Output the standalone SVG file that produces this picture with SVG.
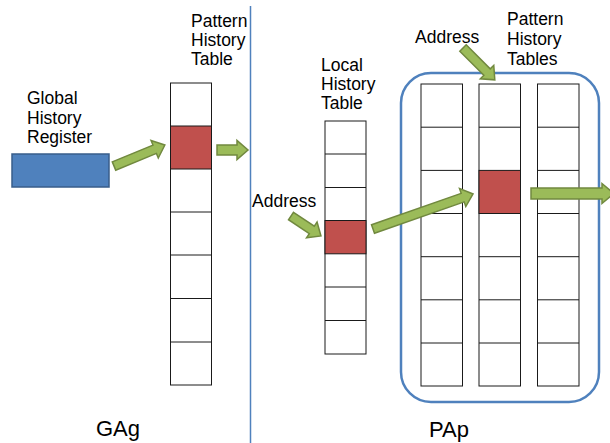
<svg xmlns="http://www.w3.org/2000/svg" width="610" height="443" viewBox="0 0 610 443">
<style>
text{font-family:"Liberation Sans",Arial,sans-serif;font-size:17.5px;fill:#000}
.big{font-size:22px}
.cell{fill:#fff;stroke:#1a1a1a;stroke-width:1}
.hot{fill:#C0504D;stroke:#1a1a1a;stroke-width:1}
.arr{fill:#9BBB59;stroke:#71893F;stroke-width:1.5;stroke-linejoin:miter}
</style>
<rect width="610" height="443" fill="#fff"/>
<line x1="250.5" y1="6" x2="250.5" y2="443" stroke="#4F81BD" stroke-width="1.5"/>
<g id="ghr">
<rect x="12" y="154" width="97" height="33" fill="#4F81BD" stroke="#385D8A" stroke-width="1.5"/>
<text x="27" y="104">Global</text>
<text x="27" y="124">History</text>
<text x="27" y="143">Register</text>
</g>
<g id="pht-gag">
<text x="191" y="27">Pattern</text>
<text x="191" y="46">History</text>
<text x="191" y="65">Table</text>
<rect class="cell" x="170.5" y="83" width="41" height="302"/>
<rect class="hot" x="170.5" y="126" width="41" height="43"/>
<path d="M170.5 212H211.5M170.5 255H211.5M170.5 298.5H211.5M170.5 342H211.5" stroke="#1a1a1a" stroke-width="1"/>
</g>
<g id="lht">
<text x="321" y="71">Local</text>
<text x="321" y="90">History</text>
<text x="321" y="108.5">Table</text>
<rect class="cell" x="325" y="121" width="41" height="233"/>
<path d="M325 154H366M325 187.5H366M325 287H366M325 320.5H366" stroke="#1a1a1a" stroke-width="1"/>
<rect class="hot" x="325" y="220.5" width="41" height="33.3"/>
</g>
<g id="pap">
<rect x="401" y="73" width="198" height="329" rx="30" ry="30" fill="none" stroke="#4F81BD" stroke-width="2.5"/>
<text x="415" y="43">Address</text>
<text x="507" y="25">Pattern</text>
<text x="507" y="44.5">History</text>
<text x="507" y="64.5">Tables</text>
<g id="pht1">
<rect class="cell" x="421" y="84" width="41.5" height="302"/>
<path d="M421 127.2H462.5M421 170.4H462.5M421 213.5H462.5M421 256.7H462.5M421 299.8H462.5M421 343H462.5" stroke="#1a1a1a" stroke-width="1"/>
</g>
<g id="pht2">
<rect class="cell" x="479" y="84" width="41.5" height="302"/>
<path d="M479 127.2H520.5M479 256.7H520.5M479 299.8H520.5M479 343H520.5" stroke="#1a1a1a" stroke-width="1"/>
<rect class="hot" x="479" y="170.4" width="41.5" height="43.1"/>
</g>
<g id="pht3">
<rect class="cell" x="537.5" y="84" width="41.5" height="302"/>
<path d="M537.5 127.2H579M537.5 170.4H579M537.5 213.5H579M537.5 256.7H579M537.5 299.8H579M537.5 343H579" stroke="#1a1a1a" stroke-width="1"/>
</g>
</g>
<g id="addr-left">
<text x="252" y="207">Address</text>
</g>
<g id="connectors">
<path class="arr" transform="translate(114,166) rotate(-22.4)" d="M0-4.5H44V-9.5L55 0 44 9.5V4.5H0Z"/>
<path class="arr" transform="translate(217,150)" d="M0-5H20V-9.5L31 0 20 9.5V5H0Z"/>
<path class="arr" transform="translate(291,216) rotate(33.7)" d="M0-4.5H25V-9.5L36 0 25 9.5V4.5H0Z"/>
<path class="arr" transform="translate(373,229) rotate(-19.3)" d="M0-4.5H95V-9.5L106 0 95 9.5V4.5H0Z"/>
<path class="arr" transform="translate(463,48) rotate(45)" d="M0-4.5H34V-9.5L45 0 34 9.5V4.5H0Z"/>
<path class="arr" transform="translate(531,193.5)" d="M0-5.5H71V-10L83 0 71 10V5.5H0Z"/>
</g>
<text class="big" x="96" y="436">GAg</text>
<text class="big" x="429" y="437">PAp</text>
</svg>
